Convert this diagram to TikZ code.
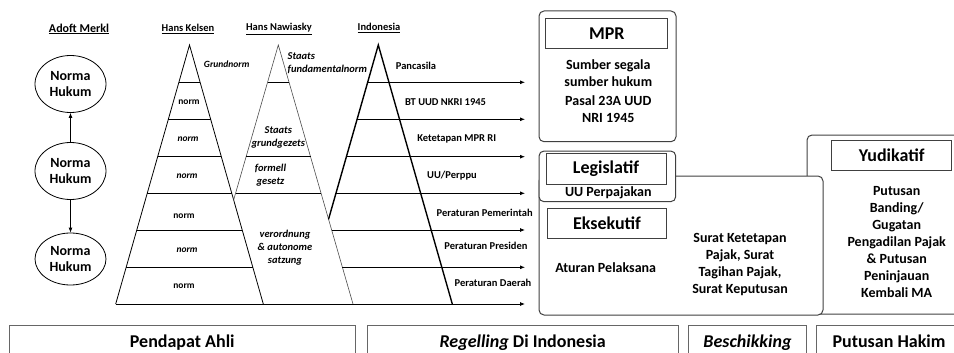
\documentclass[tikz,border=0pt]{standalone}
\usepackage{fontspec}
\setmainfont{Carlito}
\usetikzlibrary{shapes.geometric,arrows.meta}

\tikzset{
  norma/.style={draw, ellipse, minimum width=71pt, minimum height=57pt, inner sep=0pt, align=center, font=\fontsize{14}{16}\selectfont\bfseries},
  hdr/.style={font=\fontsize{10.5}{12}\selectfont\bfseries},
  klbl/.style={font=\fontsize{9.5}{11}\selectfont\bfseries},
  nlbl/.style={align=center, font=\fontsize{10.5}{13}\selectfont\bfseries\itshape},
  ilbl/.style={font=\fontsize{10.5}{12}\selectfont\bfseries},
  txt/.style={align=center, font=\fontsize{14}{17}\selectfont\bfseries},
  titlebox/.style={draw=black!75, line width=1pt, minimum height=30pt, inner sep=0pt, font=\fontsize{18}{20}\selectfont\bfseries},
  outer/.style={draw=black!75, line width=1pt, rounded corners=5pt},
  botbox/.style={draw=black!60, line width=1pt, minimum height=34.5pt, inner sep=0pt, text height=12.5pt, text depth=3.5pt, font=\fontsize{18}{20}\selectfont\bfseries},
  ptr/.style={-{Latex[length=5pt,width=4pt]}},
}

\begin{document}
\begin{tikzpicture}[x=1pt, y=-1pt, line width=0.8pt]
\useasboundingbox (0,0) rectangle (954,353);
\clip (0,0) rectangle (954,353);

\node[hdr, font=\fontsize{12}{14}\selectfont\bfseries] (hMerkl) at (79,29) {\underline{Adoft Merkl}};
\node[hdr] (hKelsen) at (188,29) {\underline{Hans Kelsen}};
\node[hdr] (hNawiasky) at (279,29) {\underline{Hans Nawiasky}};
\node[hdr] (hIndo) at (379,28) {\underline{Indonesia}};

\node[norma] (m1) at (70.5,84) {Norma\\Hukum};
\node[norma] (m2) at (70.5,171) {Norma\\Hukum};
\node[norma, minimum height=52pt] (m3) at (70.5,259) {Norma\\Hukum};
\draw[ptr] (m2) -- (m1);
\draw[ptr] (m2) -- (m3);

\coordinate (kTop) at (189.5,45);
\coordinate (kL) at (115.7,304);
\coordinate (kR) at (263.3,304);
\coordinate (nTop) at (278.3,45);
\coordinate (nL) at (203.6,304);
\coordinate (nR) at (353,304);
\coordinate (iTop) at (378.3,45);
\coordinate (iL) at (304.3,304);
\coordinate (iR) at (452.3,304);
\coordinate (nk) at (intersection of nTop--nL and kTop--kR);
\coordinate (in) at (intersection of iTop--iL and nTop--nR);

\draw (kL) -- (kTop) -- (kR);
\draw[black!70, line width=0.6pt] (nk) -- (nTop) -- (nR);
\draw[line width=1.4pt] (in) -- (iTop) -- (iR);

\foreach \y/\a/\b in {82.3/178.9/200.1, 119.3/168.3/210.7, 156.7/157.7/221.3, 193.3/147.2/231.8, 230/136.8/242.2, 267.3/126.2/252.8}
  \draw (\a,\y) -- (\b,\y);
\foreach \y/\a/\b in {82.3/267.5/289.1, 156.7/246.1/310.5, 193.3/235.5/321.1}
  \draw (\a,\y) -- (\b,\y);
\foreach \y/\a in {82.3/367.6, 119.3/357.1, 156.7/346.4, 193.3/335.9, 230/331.7, 267.3/342.4, 304/115.7}
  \draw[ptr] (\a,\y) -- (525,\y);

\node[klbl, font=\fontsize{9.5}{11}\selectfont\bfseries\itshape] (kGrund) at (226.7,64.3) {Grundnorm};
\node[klbl] (k1) at (189,102) {norm};
\node[klbl, font=\fontsize{9.5}{11}\selectfont\bfseries\itshape] (k2) at (188,139) {norm};
\node[klbl, font=\fontsize{9.5}{11}\selectfont\bfseries\itshape] (k3) at (187,176) {norm};
\node[klbl] (k4) at (184,216) {norm};
\node[klbl, font=\fontsize{9.5}{11}\selectfont\bfseries\itshape] (k5) at (187,250) {norm};
\node[klbl] (k6) at (184,286) {norm};

\node[nlbl, align=left, anchor=west] (nStaats) at (284,63) {Staats\\fundamentalnorm};
\node[nlbl] (nGrund) at (278.3,137) {Staats\\grundgezets};
\node[nlbl] (nFormell) at (270.5,175) {formell\\gesetz};
\node[nlbl] (nVerord) at (285,248) {verordnung\\\& autonome\\satzung};

\node[ilbl] (iPanca) at (416,66) {Pancasila};
\node[ilbl] (iUUD) at (445.5,101.7) {BT UUD NKRI 1945};
\node[ilbl] (iTap) at (456.7,139.3) {Ketetapan MPR RI};
\node[ilbl] (iUU) at (452,175.7) {UU/Perppu};
\node[ilbl] (iPP) at (484.7,212.7) {Peraturan Pemerintah};
\node[ilbl] (iPerpres) at (486,246) {Peraturan Presiden};
\node[ilbl] (iPerda) at (493,283.3) {Peraturan Daerah};

\draw[outer] (539,11) rectangle (676,141.7);
\draw[outer] (807,135) rectangle (975,314);
\draw[outer, fill=white] (539,176) rectangle (823,315);
\draw[outer, fill=white] (539,151) rectangle (675.7,201.7);

\node[titlebox, minimum width=121.7pt] (tMPR) at (606.8,33.7) {MPR};
\node[titlebox, minimum width=120pt, minimum height=31pt] (tLeg) at (606,168.8) {Legislatif};
\node[titlebox, minimum width=119.4pt] (tEks) at (607,223.3) {Eksekutif};
\node[titlebox, minimum width=120pt] (tYud) at (891.7,155) {Yudikatif};

\node[txt] (sumber) at (608.3,72.7) {Sumber segala\\sumber hukum};
\node[txt] (pasal) at (608.3,109.2) {Pasal 23A UUD\\NRI 1945};
\node[txt] (uuPajak) at (608.3,192.3) {UU Perpajakan};
\node[txt] (aturan) at (605.7,267.7) {Aturan Pelaksana};
\node[txt] (surat) at (740,264.7) {Surat Ketetapan\\Pajak, Surat\\Tagihan Pajak,\\Surat Keputusan};
\node[txt] (putusan) at (896.7,241.7) {Putusan\\Banding/\\Gugatan\\Pengadilan Pajak\\\& Putusan\\Peninjauan\\Kembali MA};

\node[botbox, minimum width=345.5pt] (bAhli) at (182.25,342.75) {Pendapat Ahli};
\node[botbox, minimum width=311.3pt] (bReg) at (522.65,342.75) {\textit{Regelling} Di Indonesia};
\node[botbox, minimum width=118.4pt] (bBes) at (747.5,342.75) {\textit{Beschikking}};
\node[botbox, minimum width=144.6pt] (bHakim) at (889,342.75) {Putusan Hakim};
\end{tikzpicture}
\end{document}
